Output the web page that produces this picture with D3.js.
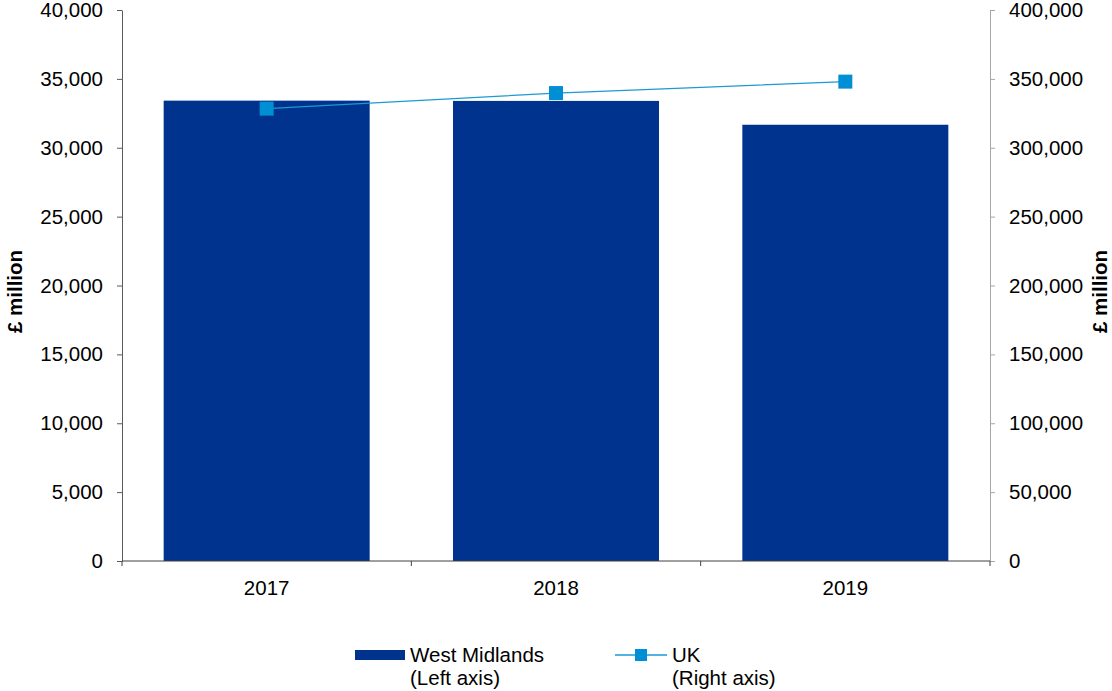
<!DOCTYPE html>
<html>
<head>
<meta charset="utf-8">
<script src="https://cdn.jsdelivr.net/npm/d3@7"></script>
<style>
  body { margin: 0; background: #fff; }
  svg { display: block; font-family: "Liberation Sans", Arial, sans-serif; }
  svg text { font-family: "Liberation Sans", Arial, sans-serif; font-size: 20.5px; fill: #000; }
</style>
</head>
<body>
<svg id="chart" width="1112" height="691"></svg>
<script>
// Years along the bottom axis
const years = ["2017", "2018", "2019"];
// West Midlands, £ million (left axis)
const westMidlands = [33420, 33400, 31670];
// UK, £ million (right axis)
const uk = [328400, 339700, 348000];
// Axis tick values
const leftTicks = [0, 5000, 10000, 15000, 20000, 25000, 30000, 35000, 40000];
const rightTicks = [0, 50000, 100000, 150000, 200000, 250000, 300000, 350000, 400000];

const svg = d3.select("#chart");
const m = { left: 122, right: 990, top: 10, bottom: 561 };
const fmt = d3.format(",");

const x = d3.scaleBand().domain(years).range([m.left, m.right]).paddingInner(0.288).paddingOuter(0.144);
const yL = d3.scaleLinear().domain([0, 40000]).range([m.bottom, m.top]);
const yR = d3.scaleLinear().domain([0, 400000]).range([m.bottom, m.top]);

// Bars
svg.append("g").selectAll("rect").data(westMidlands).join("rect")
  .attr("x", (d, i) => x(years[i]))
  .attr("width", x.bandwidth())
  .attr("y", d => yL(d))
  .attr("height", d => yL(0) - yL(d))
  .attr("fill", "#00338D");

// Left axis
const gL = svg.append("g").attr("transform", `translate(${m.left},0)`)
  .call(d3.axisLeft(yL).tickValues(leftTicks).tickFormat(fmt).tickSize(5).tickPadding(14).tickSizeOuter(0));
gL.select(".domain").attr("stroke", "#595959");
gL.selectAll(".tick line").attr("stroke", "#595959");

// Right axis
const gR = svg.append("g").attr("transform", `translate(${m.right},0)`)
  .call(d3.axisRight(yR).tickValues(rightTicks).tickFormat(fmt).tickSize(5).tickPadding(14).tickSizeOuter(0));
gR.select(".domain").attr("stroke", "#a6a6a6");
gR.selectAll(".tick line").attr("stroke", "#a6a6a6");

// Bottom axis: line with ticks at category boundaries
const gB = svg.append("g");
gB.append("line").attr("x1", m.left).attr("x2", m.right).attr("y1", m.bottom).attr("y2", m.bottom)
  .attr("stroke", "#404040");
const bounds = d3.range(years.length + 1).map(i => m.left + i * (m.right - m.left) / years.length);
gB.selectAll("line.b").data(bounds).join("line").attr("class", "b")
  .attr("x1", d => d).attr("x2", d => d).attr("y1", m.bottom).attr("y2", m.bottom + 5)
  .attr("stroke", "#404040");
gB.selectAll("text").data(years).join("text")
  .attr("x", d => x(d) + x.bandwidth() / 2)
  .attr("y", 595)
  .attr("text-anchor", "middle")
  .text(d => d);

// UK line with square markers
const cx = (i) => x(years[i]) + x.bandwidth() / 2;
svg.append("path")
  .datum(uk)
  .attr("fill", "none")
  .attr("stroke", "#1A9AD6")
  .attr("stroke-width", 1.3)
  .attr("d", d3.line().x((d, i) => cx(i)).y(d => yR(d)));
svg.append("g").selectAll("rect").data(uk).join("rect")
  .attr("x", (d, i) => cx(i) - 7)
  .attr("y", d => yR(d) - 7)
  .attr("width", 14).attr("height", 14)
  .attr("fill", "#008FD5");

// Axis titles
svg.append("text")
  .attr("transform", `translate(22,${(m.top + m.bottom) / 2 + 6}) rotate(-90)`)
  .attr("text-anchor", "middle").style("font-weight", "bold")
  .text("£ million");
svg.append("text")
  .attr("transform", `translate(1107,${(m.top + m.bottom) / 2 + 6}) rotate(-90)`)
  .attr("text-anchor", "middle").style("font-weight", "bold")
  .text("£ million");

// Legend
const lg = svg.append("g");
lg.append("rect").attr("x", 355).attr("y", 650).attr("width", 50).attr("height", 10).attr("fill", "#00338D");
lg.append("text").attr("x", 410).attr("y", 662).text("West Midlands");
lg.append("text").attr("x", 410).attr("y", 685).text("(Left axis)");
lg.append("line").attr("x1", 615).attr("x2", 667).attr("y1", 655).attr("y2", 655)
  .attr("stroke", "#1A9AD6").attr("stroke-width", 1.3);
lg.append("rect").attr("x", 635).attr("y", 649).attr("width", 12).attr("height", 12).attr("fill", "#008FD5");
lg.append("text").attr("x", 672).attr("y", 662).text("UK");
lg.append("text").attr("x", 672).attr("y", 685).text("(Right axis)");
</script>
</body>
</html>
